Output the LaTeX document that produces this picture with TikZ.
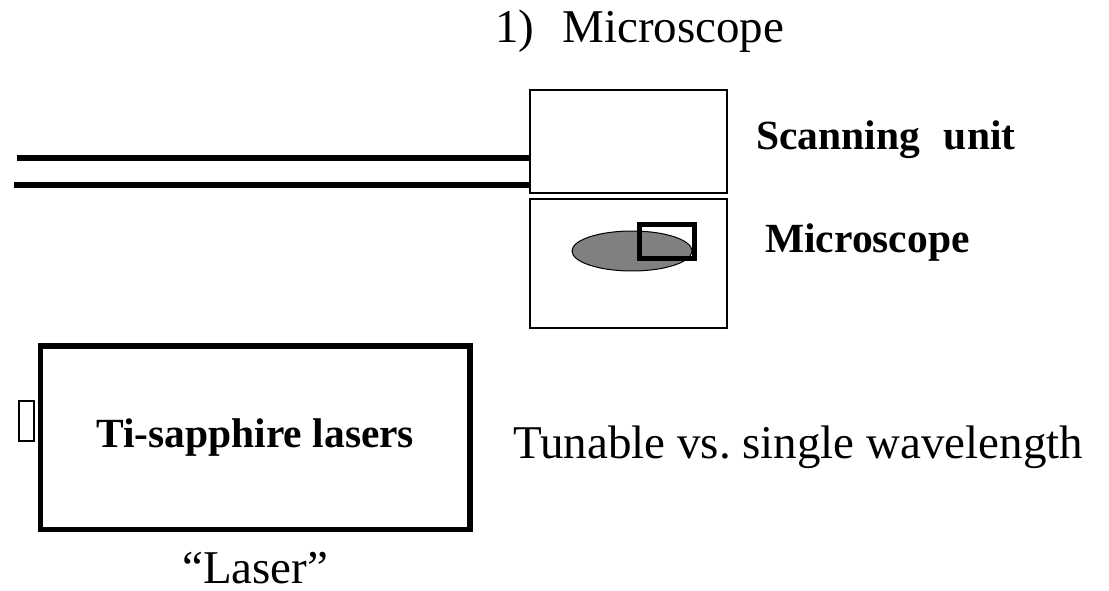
\documentclass[tikz,border=0pt]{standalone}
\usepackage{fontspec}
\setmainfont{Liberation Serif}
\usetikzlibrary{shapes.geometric}
\frenchspacing
\begin{document}
\begin{tikzpicture}[x=1pt,y=1pt,
  plain/.style={font=\fontsize{47}{52}\selectfont, inner sep=0pt},
  heavy/.style={font=\fontsize{41.5}{46}\selectfont\bfseries, inner sep=0pt},
  thinbox/.style={draw, line width=1.5pt, inner sep=0pt},
  fiber/.style={line width=5.5pt}]
\useasboundingbox (0,0) rectangle (1109,-591);

% title
\node[plain, anchor=base west] (title) at (495,-43) {1)\hspace{28pt}Microscope};

% scanning unit and microscope boxes
\node[thinbox, minimum width=197pt, minimum height=103pt] (scan) at (628.5,-141.5) {};
\node[thinbox, minimum width=197pt, minimum height=129pt] (scope) at (628.5,-263.5) {};
\node[heavy, anchor=base west] (scanlbl) at (756,-150) {Scanning\hspace{24pt}unit};
\node[heavy, anchor=base west] (scopelbl) at (765,-252) {Microscope};

% sample and field of view
\node[draw, line width=1pt, fill=black!50, ellipse, minimum width=120pt, minimum height=40pt, inner sep=0pt] (sample) at (632,-251) {};
\node[draw, line width=5pt, minimum width=55pt, minimum height=34pt, inner sep=0pt] (fov) at (667,-241) {};

% fibre pair into the scanning unit
\coordinate (f1) at (17,-158);
\coordinate (f2) at (14,-185);
\draw[fiber] (f1) -- (f1 -| scan.west);
\draw[fiber] (f2) -- ([xshift=2pt]f2 -| scan.west);

% laser
\node[draw, line width=5.5pt, minimum width=429.5pt, minimum height=183.5pt, heavy] (laser) at (255.25,-437.75) {Ti-sapphire lasers};
\node[draw, line width=2.5pt, minimum width=15pt, minimum height=40pt, inner sep=0pt, anchor=east] (port) at ([xshift=-2.75pt]laser.west |- 0,-421) {};
\node[plain, anchor=base] (laserlbl) at (255.25,-583) {``Laser''};
\node[plain, anchor=base west] (tune) at (513,-458) {Tunable vs. single wavelength};
\end{tikzpicture}
\end{document}
